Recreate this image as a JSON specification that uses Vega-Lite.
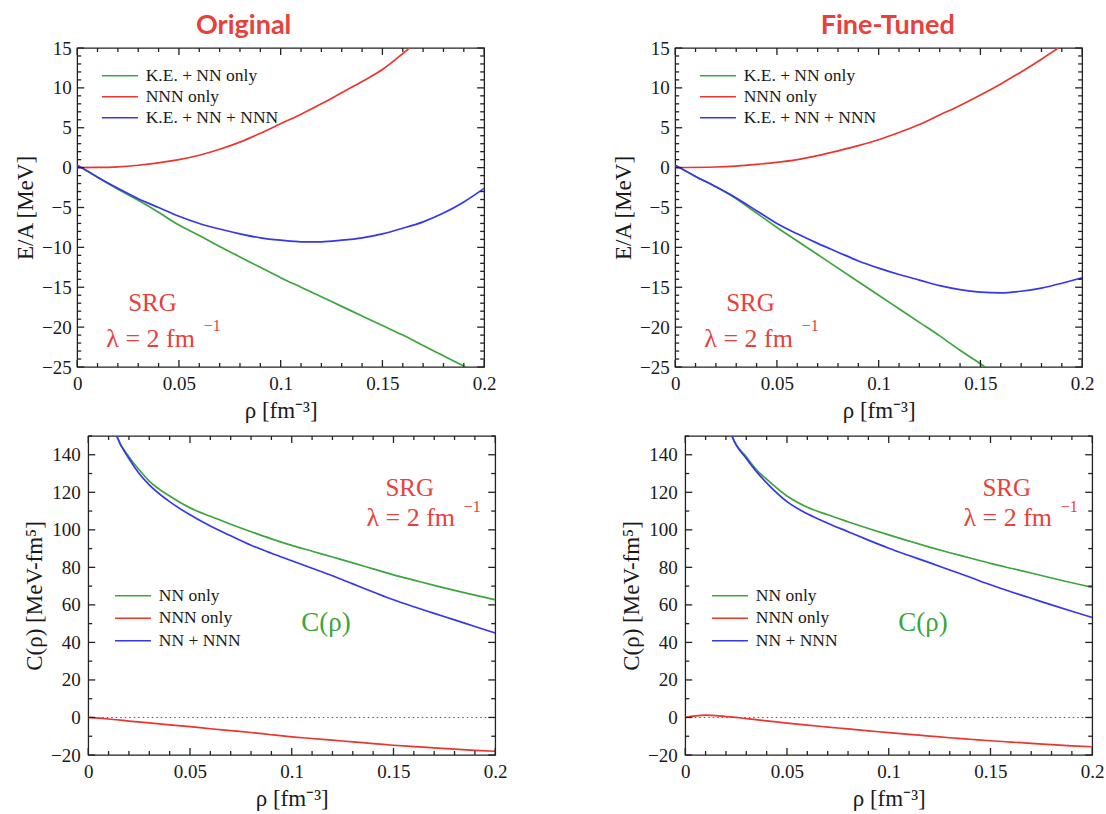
{
  "$schema": "https://vega.github.io/schema/vega-lite/v6.json",
  "padding": {"top": 11, "left": 13, "right": 0, "bottom": 0},
  "background": "white",
  "datasets": {
    "ea_original": [
      {"series": "K.E. + NN only", "rho": 0, "value": 0.3},
      {"series": "K.E. + NN only", "rho": 0.005, "value": -0.4},
      {"series": "K.E. + NN only", "rho": 0.01, "value": -1.2},
      {"series": "K.E. + NN only", "rho": 0.02, "value": -2.7},
      {"series": "K.E. + NN only", "rho": 0.03, "value": -4.1},
      {"series": "K.E. + NN only", "rho": 0.04, "value": -5.6},
      {"series": "K.E. + NN only", "rho": 0.05, "value": -7.2},
      {"series": "K.E. + NN only", "rho": 0.06, "value": -8.5},
      {"series": "K.E. + NN only", "rho": 0.07, "value": -9.9},
      {"series": "K.E. + NN only", "rho": 0.08, "value": -11.2},
      {"series": "K.E. + NN only", "rho": 0.09, "value": -12.5},
      {"series": "K.E. + NN only", "rho": 0.1, "value": -13.8},
      {"series": "K.E. + NN only", "rho": 0.11, "value": -15.0},
      {"series": "K.E. + NN only", "rho": 0.12, "value": -16.2},
      {"series": "K.E. + NN only", "rho": 0.13, "value": -17.4},
      {"series": "K.E. + NN only", "rho": 0.14, "value": -18.6},
      {"series": "K.E. + NN only", "rho": 0.15, "value": -19.8},
      {"series": "K.E. + NN only", "rho": 0.16, "value": -21.0},
      {"series": "K.E. + NN only", "rho": 0.17, "value": -22.3},
      {"series": "K.E. + NN only", "rho": 0.18, "value": -23.6},
      {"series": "K.E. + NN only", "rho": 0.19, "value": -24.9},
      {"series": "K.E. + NN only", "rho": 0.195, "value": -25.6},
      {"series": "NNN only", "rho": 0, "value": 0},
      {"series": "NNN only", "rho": 0.01, "value": 0.02},
      {"series": "NNN only", "rho": 0.02, "value": 0.1},
      {"series": "NNN only", "rho": 0.03, "value": 0.3},
      {"series": "NNN only", "rho": 0.04, "value": 0.6},
      {"series": "NNN only", "rho": 0.05, "value": 1.0},
      {"series": "NNN only", "rho": 0.06, "value": 1.55},
      {"series": "NNN only", "rho": 0.07, "value": 2.3},
      {"series": "NNN only", "rho": 0.08, "value": 3.2},
      {"series": "NNN only", "rho": 0.09, "value": 4.3},
      {"series": "NNN only", "rho": 0.1, "value": 5.5},
      {"series": "NNN only", "rho": 0.11, "value": 6.7},
      {"series": "NNN only", "rho": 0.12, "value": 8.0},
      {"series": "NNN only", "rho": 0.13, "value": 9.4},
      {"series": "NNN only", "rho": 0.14, "value": 10.8},
      {"series": "NNN only", "rho": 0.15, "value": 12.3},
      {"series": "NNN only", "rho": 0.16, "value": 14.3},
      {"series": "NNN only", "rho": 0.17, "value": 16.5},
      {"series": "K.E. + NN + NNN", "rho": 0, "value": 0.3},
      {"series": "K.E. + NN + NNN", "rho": 0.01, "value": -1.2},
      {"series": "K.E. + NN + NNN", "rho": 0.02, "value": -2.6},
      {"series": "K.E. + NN + NNN", "rho": 0.03, "value": -3.9},
      {"series": "K.E. + NN + NNN", "rho": 0.04, "value": -5.0},
      {"series": "K.E. + NN + NNN", "rho": 0.05, "value": -6.1},
      {"series": "K.E. + NN + NNN", "rho": 0.06, "value": -7.0},
      {"series": "K.E. + NN + NNN", "rho": 0.07, "value": -7.7},
      {"series": "K.E. + NN + NNN", "rho": 0.08, "value": -8.3},
      {"series": "K.E. + NN + NNN", "rho": 0.09, "value": -8.8},
      {"series": "K.E. + NN + NNN", "rho": 0.1, "value": -9.1},
      {"series": "K.E. + NN + NNN", "rho": 0.11, "value": -9.3},
      {"series": "K.E. + NN + NNN", "rho": 0.12, "value": -9.3},
      {"series": "K.E. + NN + NNN", "rho": 0.13, "value": -9.1},
      {"series": "K.E. + NN + NNN", "rho": 0.14, "value": -8.8},
      {"series": "K.E. + NN + NNN", "rho": 0.15, "value": -8.3},
      {"series": "K.E. + NN + NNN", "rho": 0.16, "value": -7.6},
      {"series": "K.E. + NN + NNN", "rho": 0.17, "value": -6.8},
      {"series": "K.E. + NN + NNN", "rho": 0.18, "value": -5.7},
      {"series": "K.E. + NN + NNN", "rho": 0.19, "value": -4.3},
      {"series": "K.E. + NN + NNN", "rho": 0.2, "value": -2.6}
    ],
    "ea_tuned": [
      {"series": "K.E. + NN only", "rho": 0, "value": 0.3},
      {"series": "K.E. + NN only", "rho": 0.01, "value": -1.1},
      {"series": "K.E. + NN only", "rho": 0.02, "value": -2.4},
      {"series": "K.E. + NN only", "rho": 0.03, "value": -3.9},
      {"series": "K.E. + NN only", "rho": 0.04, "value": -5.7},
      {"series": "K.E. + NN only", "rho": 0.05, "value": -7.5},
      {"series": "K.E. + NN only", "rho": 0.06, "value": -9.2},
      {"series": "K.E. + NN only", "rho": 0.07, "value": -10.9},
      {"series": "K.E. + NN only", "rho": 0.08, "value": -12.6},
      {"series": "K.E. + NN only", "rho": 0.09, "value": -14.3},
      {"series": "K.E. + NN only", "rho": 0.1, "value": -16.0},
      {"series": "K.E. + NN only", "rho": 0.11, "value": -17.7},
      {"series": "K.E. + NN only", "rho": 0.12, "value": -19.4},
      {"series": "K.E. + NN only", "rho": 0.13, "value": -21.1},
      {"series": "K.E. + NN only", "rho": 0.14, "value": -22.9},
      {"series": "K.E. + NN only", "rho": 0.15, "value": -24.6},
      {"series": "K.E. + NN only", "rho": 0.155, "value": -25.5},
      {"series": "NNN only", "rho": 0, "value": 0},
      {"series": "NNN only", "rho": 0.02, "value": 0.08},
      {"series": "NNN only", "rho": 0.03, "value": 0.2},
      {"series": "NNN only", "rho": 0.04, "value": 0.4},
      {"series": "NNN only", "rho": 0.05, "value": 0.65},
      {"series": "NNN only", "rho": 0.06, "value": 1.0},
      {"series": "NNN only", "rho": 0.07, "value": 1.5},
      {"series": "NNN only", "rho": 0.08, "value": 2.1},
      {"series": "NNN only", "rho": 0.09, "value": 2.75},
      {"series": "NNN only", "rho": 0.1, "value": 3.5},
      {"series": "NNN only", "rho": 0.11, "value": 4.4},
      {"series": "NNN only", "rho": 0.12, "value": 5.4},
      {"series": "NNN only", "rho": 0.13, "value": 6.6},
      {"series": "NNN only", "rho": 0.14, "value": 7.8},
      {"series": "NNN only", "rho": 0.15, "value": 9.1},
      {"series": "NNN only", "rho": 0.16, "value": 10.5},
      {"series": "NNN only", "rho": 0.17, "value": 12.0},
      {"series": "NNN only", "rho": 0.18, "value": 13.6},
      {"series": "NNN only", "rho": 0.19, "value": 15.3},
      {"series": "K.E. + NN + NNN", "rho": 0, "value": 0.3},
      {"series": "K.E. + NN + NNN", "rho": 0.01, "value": -1.1},
      {"series": "K.E. + NN + NNN", "rho": 0.02, "value": -2.4},
      {"series": "K.E. + NN + NNN", "rho": 0.03, "value": -3.8},
      {"series": "K.E. + NN + NNN", "rho": 0.04, "value": -5.4},
      {"series": "K.E. + NN + NNN", "rho": 0.05, "value": -7.0},
      {"series": "K.E. + NN + NNN", "rho": 0.06, "value": -8.3},
      {"series": "K.E. + NN + NNN", "rho": 0.07, "value": -9.5},
      {"series": "K.E. + NN + NNN", "rho": 0.08, "value": -10.6},
      {"series": "K.E. + NN + NNN", "rho": 0.09, "value": -11.7},
      {"series": "K.E. + NN + NNN", "rho": 0.1, "value": -12.6},
      {"series": "K.E. + NN + NNN", "rho": 0.11, "value": -13.4},
      {"series": "K.E. + NN + NNN", "rho": 0.12, "value": -14.1},
      {"series": "K.E. + NN + NNN", "rho": 0.13, "value": -14.8},
      {"series": "K.E. + NN + NNN", "rho": 0.14, "value": -15.3},
      {"series": "K.E. + NN + NNN", "rho": 0.15, "value": -15.6},
      {"series": "K.E. + NN + NNN", "rho": 0.16, "value": -15.7},
      {"series": "K.E. + NN + NNN", "rho": 0.17, "value": -15.5},
      {"series": "K.E. + NN + NNN", "rho": 0.18, "value": -15.1},
      {"series": "K.E. + NN + NNN", "rho": 0.19, "value": -14.5},
      {"series": "K.E. + NN + NNN", "rho": 0.2, "value": -13.8}
    ],
    "c_original": [
      {"series": "NN only", "rho": 0.012, "value": 157},
      {"series": "NN only", "rho": 0.014, "value": 150},
      {"series": "NN only", "rho": 0.02, "value": 139},
      {"series": "NN only", "rho": 0.025, "value": 132},
      {"series": "NN only", "rho": 0.03, "value": 126},
      {"series": "NN only", "rho": 0.04, "value": 118},
      {"series": "NN only", "rho": 0.05, "value": 111.7},
      {"series": "NN only", "rho": 0.06, "value": 107.2},
      {"series": "NN only", "rho": 0.07, "value": 103},
      {"series": "NN only", "rho": 0.08, "value": 99},
      {"series": "NN only", "rho": 0.09, "value": 95.2},
      {"series": "NN only", "rho": 0.1, "value": 91.7},
      {"series": "NN only", "rho": 0.11, "value": 88.6},
      {"series": "NN only", "rho": 0.12, "value": 85.5},
      {"series": "NN only", "rho": 0.13, "value": 82.4},
      {"series": "NN only", "rho": 0.14, "value": 79.2},
      {"series": "NN only", "rho": 0.15, "value": 76.0},
      {"series": "NN only", "rho": 0.16, "value": 73.2},
      {"series": "NN only", "rho": 0.17, "value": 70.4},
      {"series": "NN only", "rho": 0.18, "value": 67.7},
      {"series": "NN only", "rho": 0.19, "value": 65.2},
      {"series": "NN only", "rho": 0.2, "value": 62.7},
      {"series": "NNN only", "rho": 0, "value": 0},
      {"series": "NNN only", "rho": 0.01, "value": -0.8},
      {"series": "NNN only", "rho": 0.02, "value": -1.9},
      {"series": "NNN only", "rho": 0.03, "value": -2.9},
      {"series": "NNN only", "rho": 0.04, "value": -3.9},
      {"series": "NNN only", "rho": 0.05, "value": -4.9},
      {"series": "NNN only", "rho": 0.06, "value": -6.0},
      {"series": "NNN only", "rho": 0.07, "value": -7.0},
      {"series": "NNN only", "rho": 0.08, "value": -8.0},
      {"series": "NNN only", "rho": 0.09, "value": -9.2},
      {"series": "NNN only", "rho": 0.1, "value": -10.3},
      {"series": "NNN only", "rho": 0.11, "value": -11.2},
      {"series": "NNN only", "rho": 0.12, "value": -12.1},
      {"series": "NNN only", "rho": 0.13, "value": -13.0},
      {"series": "NNN only", "rho": 0.14, "value": -13.9},
      {"series": "NNN only", "rho": 0.15, "value": -14.8},
      {"series": "NNN only", "rho": 0.16, "value": -15.5},
      {"series": "NNN only", "rho": 0.17, "value": -16.2},
      {"series": "NNN only", "rho": 0.18, "value": -16.9},
      {"series": "NNN only", "rho": 0.19, "value": -17.5},
      {"series": "NNN only", "rho": 0.2, "value": -18.0},
      {"series": "NN + NNN", "rho": 0.012, "value": 157},
      {"series": "NN + NNN", "rho": 0.014, "value": 150},
      {"series": "NN + NNN", "rho": 0.02, "value": 138},
      {"series": "NN + NNN", "rho": 0.025, "value": 130},
      {"series": "NN + NNN", "rho": 0.03, "value": 124},
      {"series": "NN + NNN", "rho": 0.04, "value": 115},
      {"series": "NN + NNN", "rho": 0.05, "value": 108},
      {"series": "NN + NNN", "rho": 0.06, "value": 102},
      {"series": "NN + NNN", "rho": 0.07, "value": 96.8},
      {"series": "NN + NNN", "rho": 0.08, "value": 91.8},
      {"series": "NN + NNN", "rho": 0.09, "value": 87.5},
      {"series": "NN + NNN", "rho": 0.1, "value": 83.5},
      {"series": "NN + NNN", "rho": 0.11, "value": 79.5},
      {"series": "NN + NNN", "rho": 0.12, "value": 75.5},
      {"series": "NN + NNN", "rho": 0.13, "value": 71.2},
      {"series": "NN + NNN", "rho": 0.14, "value": 66.9},
      {"series": "NN + NNN", "rho": 0.15, "value": 62.7},
      {"series": "NN + NNN", "rho": 0.16, "value": 59.0},
      {"series": "NN + NNN", "rho": 0.17, "value": 55.5},
      {"series": "NN + NNN", "rho": 0.18, "value": 52.0},
      {"series": "NN + NNN", "rho": 0.19, "value": 48.5},
      {"series": "NN + NNN", "rho": 0.2, "value": 45.0}
    ],
    "c_tuned": [
      {"series": "NN only", "rho": 0.021, "value": 157},
      {"series": "NN only", "rho": 0.023, "value": 150},
      {"series": "NN only", "rho": 0.03, "value": 139},
      {"series": "NN only", "rho": 0.035, "value": 132},
      {"series": "NN only", "rho": 0.04, "value": 127},
      {"series": "NN only", "rho": 0.05, "value": 118},
      {"series": "NN only", "rho": 0.06, "value": 112},
      {"series": "NN only", "rho": 0.07, "value": 108},
      {"series": "NN only", "rho": 0.08, "value": 104.3},
      {"series": "NN only", "rho": 0.09, "value": 100.7},
      {"series": "NN only", "rho": 0.1, "value": 97.3},
      {"series": "NN only", "rho": 0.11, "value": 94},
      {"series": "NN only", "rho": 0.12, "value": 90.8},
      {"series": "NN only", "rho": 0.13, "value": 87.8},
      {"series": "NN only", "rho": 0.14, "value": 85},
      {"series": "NN only", "rho": 0.15, "value": 82.1},
      {"series": "NN only", "rho": 0.16, "value": 79.5},
      {"series": "NN only", "rho": 0.17, "value": 77},
      {"series": "NN only", "rho": 0.18, "value": 74.3},
      {"series": "NN only", "rho": 0.19, "value": 71.8},
      {"series": "NN only", "rho": 0.2, "value": 69.3},
      {"series": "NNN only", "rho": 0, "value": 0},
      {"series": "NNN only", "rho": 0.005, "value": 0.8},
      {"series": "NNN only", "rho": 0.01, "value": 1.2},
      {"series": "NNN only", "rho": 0.015, "value": 1.0},
      {"series": "NNN only", "rho": 0.02, "value": 0.5},
      {"series": "NNN only", "rho": 0.025, "value": 0},
      {"series": "NNN only", "rho": 0.03, "value": -0.6},
      {"series": "NNN only", "rho": 0.04, "value": -1.8},
      {"series": "NNN only", "rho": 0.05, "value": -3.0},
      {"series": "NNN only", "rho": 0.06, "value": -4.1},
      {"series": "NNN only", "rho": 0.07, "value": -5.1},
      {"series": "NNN only", "rho": 0.08, "value": -6.1},
      {"series": "NNN only", "rho": 0.09, "value": -7.1},
      {"series": "NNN only", "rho": 0.1, "value": -8.1},
      {"series": "NNN only", "rho": 0.11, "value": -9.0},
      {"series": "NNN only", "rho": 0.12, "value": -9.9},
      {"series": "NNN only", "rho": 0.13, "value": -10.8},
      {"series": "NNN only", "rho": 0.14, "value": -11.6},
      {"series": "NNN only", "rho": 0.15, "value": -12.4},
      {"series": "NNN only", "rho": 0.16, "value": -13.1},
      {"series": "NNN only", "rho": 0.17, "value": -13.8},
      {"series": "NNN only", "rho": 0.18, "value": -14.5},
      {"series": "NNN only", "rho": 0.19, "value": -15.1},
      {"series": "NNN only", "rho": 0.2, "value": -15.6},
      {"series": "NN + NNN", "rho": 0.021, "value": 157},
      {"series": "NN + NNN", "rho": 0.023, "value": 150},
      {"series": "NN + NNN", "rho": 0.03, "value": 138},
      {"series": "NN + NNN", "rho": 0.035, "value": 131},
      {"series": "NN + NNN", "rho": 0.04, "value": 125},
      {"series": "NN + NNN", "rho": 0.05, "value": 115},
      {"series": "NN + NNN", "rho": 0.06, "value": 108.5},
      {"series": "NN + NNN", "rho": 0.07, "value": 103.5},
      {"series": "NN + NNN", "rho": 0.08, "value": 99},
      {"series": "NN + NNN", "rho": 0.09, "value": 94.5},
      {"series": "NN + NNN", "rho": 0.1, "value": 90.2},
      {"series": "NN + NNN", "rho": 0.11, "value": 86.3},
      {"series": "NN + NNN", "rho": 0.12, "value": 82.5},
      {"series": "NN + NNN", "rho": 0.13, "value": 78.6},
      {"series": "NN + NNN", "rho": 0.14, "value": 74.7},
      {"series": "NN + NNN", "rho": 0.15, "value": 70.7},
      {"series": "NN + NNN", "rho": 0.16, "value": 67},
      {"series": "NN + NNN", "rho": 0.17, "value": 63.5},
      {"series": "NN + NNN", "rho": 0.18, "value": 60},
      {"series": "NN + NNN", "rho": 0.19, "value": 56.6},
      {"series": "NN + NNN", "rho": 0.2, "value": 53.3}
    ],
    "notes_ea": [
      {"kind": "srg", "rho": 0.037, "value": -17.0, "label": "SRG"},
      {"kind": "lambda", "rho": 0.0143, "value": -21.5, "label": "λ = 2 fm"},
      {"kind": "power", "rho": 0.0622, "value": -19.9, "label": "−1"}
    ],
    "notes_c": [
      {"kind": "srg", "rho": 0.158, "value": 122.2, "label": "SRG"},
      {"kind": "lambda", "rho": 0.1367, "value": 106.2, "label": "λ = 2 fm"},
      {"kind": "power", "rho": 0.1845, "value": 112.4, "label": "−1"},
      {"kind": "name", "rho": 0.1168, "value": 50.5, "label": "C(ρ)"}
    ],
    "zero_line": [{"level": 0}],
    "ticks_rho": [
      {"rho": 0, "kind": "major"}, {"rho": 0.01, "kind": "minor"}, {"rho": 0.02, "kind": "minor"}, {"rho": 0.03, "kind": "minor"}, {"rho": 0.04, "kind": "minor"},
      {"rho": 0.05, "kind": "major"}, {"rho": 0.06, "kind": "minor"}, {"rho": 0.07, "kind": "minor"}, {"rho": 0.08, "kind": "minor"}, {"rho": 0.09, "kind": "minor"},
      {"rho": 0.1, "kind": "major"}, {"rho": 0.11, "kind": "minor"}, {"rho": 0.12, "kind": "minor"}, {"rho": 0.13, "kind": "minor"}, {"rho": 0.14, "kind": "minor"},
      {"rho": 0.15, "kind": "major"}, {"rho": 0.16, "kind": "minor"}, {"rho": 0.17, "kind": "minor"}, {"rho": 0.18, "kind": "minor"}, {"rho": 0.19, "kind": "minor"},
      {"rho": 0.2, "kind": "major"}
    ],
    "ticks_ea": [
      {"value": -25, "kind": "major"}, {"value": -24, "kind": "minor"}, {"value": -23, "kind": "minor"}, {"value": -22, "kind": "minor"}, {"value": -21, "kind": "minor"},
      {"value": -20, "kind": "major"}, {"value": -19, "kind": "minor"}, {"value": -18, "kind": "minor"}, {"value": -17, "kind": "minor"}, {"value": -16, "kind": "minor"},
      {"value": -15, "kind": "major"}, {"value": -14, "kind": "minor"}, {"value": -13, "kind": "minor"}, {"value": -12, "kind": "minor"}, {"value": -11, "kind": "minor"},
      {"value": -10, "kind": "major"}, {"value": -9, "kind": "minor"}, {"value": -8, "kind": "minor"}, {"value": -7, "kind": "minor"}, {"value": -6, "kind": "minor"},
      {"value": -5, "kind": "major"}, {"value": -4, "kind": "minor"}, {"value": -3, "kind": "minor"}, {"value": -2, "kind": "minor"}, {"value": -1, "kind": "minor"},
      {"value": 0, "kind": "major"}, {"value": 1, "kind": "minor"}, {"value": 2, "kind": "minor"}, {"value": 3, "kind": "minor"}, {"value": 4, "kind": "minor"},
      {"value": 5, "kind": "major"}, {"value": 6, "kind": "minor"}, {"value": 7, "kind": "minor"}, {"value": 8, "kind": "minor"}, {"value": 9, "kind": "minor"},
      {"value": 10, "kind": "major"}, {"value": 11, "kind": "minor"}, {"value": 12, "kind": "minor"}, {"value": 13, "kind": "minor"}, {"value": 14, "kind": "minor"},
      {"value": 15, "kind": "major"}
    ],
    "ticks_c": [
      {"value": -20, "kind": "major"}, {"value": -10, "kind": "minor"}, {"value": 0, "kind": "major"}, {"value": 10, "kind": "minor"},
      {"value": 20, "kind": "major"}, {"value": 30, "kind": "minor"}, {"value": 40, "kind": "major"}, {"value": 50, "kind": "minor"},
      {"value": 60, "kind": "major"}, {"value": 70, "kind": "minor"}, {"value": 80, "kind": "major"}, {"value": 90, "kind": "minor"},
      {"value": 100, "kind": "major"}, {"value": 110, "kind": "minor"}, {"value": 120, "kind": "major"}, {"value": 130, "kind": "minor"},
      {"value": 140, "kind": "major"}, {"value": 150, "kind": "minor"}
    ]
  },
  "vconcat": [
    {
      "hconcat": [
        {
          "width": 407,
          "height": 319,
          "title": {"text": "Original", "dx": -37},
          "layer": [
            {
              "data": {"name": "ea_original"},
              "mark": {"type": "line", "clip": true, "strokeWidth": 1.7, "interpolate": "monotone"},
              "encoding": {
                "x": {"field": "rho", "type": "quantitative", "scale": {"domain": [0, 0.2], "nice": false, "zero": false},
                  "axis": {"orient": "bottom", "values": [0, 0.05, 0.1, 0.15, 0.2], "format": "~g", "labelPadding": 7, "title": "ρ [fm⁻³]", "titlePadding": 6}},
                "y": {"field": "value", "type": "quantitative", "scale": {"domain": [-25, 15], "nice": false, "zero": false},
                  "axis": {"orient": "left", "values": [-25, -20, -15, -10, -5, 0, 5, 10, 15], "format": "d", "labelPadding": 6, "title": "E/A [MeV]", "titlePadding": 4}},
                "color": {"field": "series", "type": "nominal",
                  "scale": {"domain": ["K.E. + NN only", "NNN only", "K.E. + NN + NNN"], "range": ["#3ca53c", "#e8372f", "#3636ee"]},
                  "legend": {"orient": "none", "legendX": 22, "legendY": 19, "rowPadding": 2}}
              }
            },
            {
              "data": {"name": "notes_ea"},
              "transform": [{"filter": "datum.kind === 'srg'"}],
              "mark": {"type": "text", "fontSize": 25, "color": "#e8403a", "align": "center", "baseline": "middle"},
              "encoding": {
                "x": {"field": "rho", "type": "quantitative", "scale": {"domain": [0, 0.2], "nice": false, "zero": false}, "axis": null},
                "y": {"field": "value", "type": "quantitative", "scale": {"domain": [-25, 15], "nice": false, "zero": false}, "axis": null},
                "text": {"field": "label"}
              }
            },
            {
              "data": {"name": "notes_ea"},
              "transform": [{"filter": "datum.kind === 'lambda'"}],
              "mark": {"type": "text", "fontSize": 26, "color": "#e8403a", "align": "left", "baseline": "middle"},
              "encoding": {
                "x": {"field": "rho", "type": "quantitative", "scale": {"domain": [0, 0.2], "nice": false, "zero": false}, "axis": null},
                "y": {"field": "value", "type": "quantitative", "scale": {"domain": [-25, 15], "nice": false, "zero": false}, "axis": null},
                "text": {"field": "label"}
              }
            },
            {
              "data": {"name": "notes_ea"},
              "transform": [{"filter": "datum.kind === 'power'"}],
              "mark": {"type": "text", "fontSize": 16, "color": "#e8403a", "align": "left", "baseline": "middle"},
              "encoding": {
                "x": {"field": "rho", "type": "quantitative", "scale": {"domain": [0, 0.2], "nice": false, "zero": false}, "axis": null},
                "y": {"field": "value", "type": "quantitative", "scale": {"domain": [-25, 15], "nice": false, "zero": false}, "axis": null},
                "text": {"field": "label"}
              }
            },
            {
              "data": {"name": "ticks_rho"},
              "transform": [{"filter": "datum.kind === 'major'"}],
              "mark": {"type": "tick", "orient": "vertical", "size": 7, "thickness": 1.3, "color": "#222222", "opacity": 1, "yOffset": -3.5},
              "encoding": {
                "x": {"field": "rho", "type": "quantitative", "scale": {"domain": [0, 0.2], "nice": false, "zero": false}, "axis": null},
                "y": {"datum": -25, "type": "quantitative", "scale": {"domain": [-25, 15], "nice": false, "zero": false}, "axis": null}
              }
            },
            {
              "data": {"name": "ticks_rho"},
              "transform": [{"filter": "datum.kind === 'minor'"}],
              "mark": {"type": "tick", "orient": "vertical", "size": 4, "thickness": 1.3, "color": "#222222", "opacity": 1, "yOffset": -2},
              "encoding": {
                "x": {"field": "rho", "type": "quantitative", "scale": {"domain": [0, 0.2], "nice": false, "zero": false}, "axis": null},
                "y": {"datum": -25, "type": "quantitative", "scale": {"domain": [-25, 15], "nice": false, "zero": false}, "axis": null}
              }
            },
            {
              "data": {"name": "ticks_rho"},
              "transform": [{"filter": "datum.kind === 'major'"}],
              "mark": {"type": "tick", "orient": "vertical", "size": 7, "thickness": 1.3, "color": "#222222", "opacity": 1, "yOffset": 3.5},
              "encoding": {
                "x": {"field": "rho", "type": "quantitative", "scale": {"domain": [0, 0.2], "nice": false, "zero": false}, "axis": null},
                "y": {"datum": 15, "type": "quantitative", "scale": {"domain": [-25, 15], "nice": false, "zero": false}, "axis": null}
              }
            },
            {
              "data": {"name": "ticks_rho"},
              "transform": [{"filter": "datum.kind === 'minor'"}],
              "mark": {"type": "tick", "orient": "vertical", "size": 4, "thickness": 1.3, "color": "#222222", "opacity": 1, "yOffset": 2},
              "encoding": {
                "x": {"field": "rho", "type": "quantitative", "scale": {"domain": [0, 0.2], "nice": false, "zero": false}, "axis": null},
                "y": {"datum": 15, "type": "quantitative", "scale": {"domain": [-25, 15], "nice": false, "zero": false}, "axis": null}
              }
            },
            {
              "data": {"name": "ticks_ea"},
              "transform": [{"filter": "datum.kind === 'major'"}],
              "mark": {"type": "tick", "orient": "horizontal", "size": 7, "thickness": 1.3, "color": "#222222", "opacity": 1, "xOffset": 3.5},
              "encoding": {
                "x": {"datum": 0, "type": "quantitative", "scale": {"domain": [0, 0.2], "nice": false, "zero": false}, "axis": null},
                "y": {"field": "value", "type": "quantitative", "scale": {"domain": [-25, 15], "nice": false, "zero": false}, "axis": null}
              }
            },
            {
              "data": {"name": "ticks_ea"},
              "transform": [{"filter": "datum.kind === 'minor'"}],
              "mark": {"type": "tick", "orient": "horizontal", "size": 4, "thickness": 1.3, "color": "#222222", "opacity": 1, "xOffset": 2},
              "encoding": {
                "x": {"datum": 0, "type": "quantitative", "scale": {"domain": [0, 0.2], "nice": false, "zero": false}, "axis": null},
                "y": {"field": "value", "type": "quantitative", "scale": {"domain": [-25, 15], "nice": false, "zero": false}, "axis": null}
              }
            },
            {
              "data": {"name": "ticks_ea"},
              "transform": [{"filter": "datum.kind === 'major'"}],
              "mark": {"type": "tick", "orient": "horizontal", "size": 7, "thickness": 1.3, "color": "#222222", "opacity": 1, "xOffset": -3.5},
              "encoding": {
                "x": {"datum": 0.2, "type": "quantitative", "scale": {"domain": [0, 0.2], "nice": false, "zero": false}, "axis": null},
                "y": {"field": "value", "type": "quantitative", "scale": {"domain": [-25, 15], "nice": false, "zero": false}, "axis": null}
              }
            },
            {
              "data": {"name": "ticks_ea"},
              "transform": [{"filter": "datum.kind === 'minor'"}],
              "mark": {"type": "tick", "orient": "horizontal", "size": 4, "thickness": 1.3, "color": "#222222", "opacity": 1, "xOffset": -2},
              "encoding": {
                "x": {"datum": 0.2, "type": "quantitative", "scale": {"domain": [0, 0.2], "nice": false, "zero": false}, "axis": null},
                "y": {"field": "value", "type": "quantitative", "scale": {"domain": [-25, 15], "nice": false, "zero": false}, "axis": null}
              }
            }
          ],
          "resolve": {"axis": {"x": "independent", "y": "independent"}}
        },
        {
          "width": 407,
          "height": 319,
          "title": {"text": "Fine-Tuned", "dx": 9},
          "layer": [
            {
              "data": {"name": "ea_tuned"},
              "mark": {"type": "line", "clip": true, "strokeWidth": 1.7, "interpolate": "monotone"},
              "encoding": {
                "x": {"field": "rho", "type": "quantitative", "scale": {"domain": [0, 0.2], "nice": false, "zero": false},
                  "axis": {"orient": "bottom", "values": [0, 0.05, 0.1, 0.15, 0.2], "format": "~g", "labelPadding": 7, "title": "ρ [fm⁻³]", "titlePadding": 6}},
                "y": {"field": "value", "type": "quantitative", "scale": {"domain": [-25, 15], "nice": false, "zero": false},
                  "axis": {"orient": "left", "values": [-25, -20, -15, -10, -5, 0, 5, 10, 15], "format": "d", "labelPadding": 6, "title": "E/A [MeV]", "titlePadding": 4}},
                "color": {"field": "series", "type": "nominal",
                  "scale": {"domain": ["K.E. + NN only", "NNN only", "K.E. + NN + NNN"], "range": ["#3ca53c", "#e8372f", "#3636ee"]},
                  "legend": {"orient": "none", "legendX": 22, "legendY": 19, "rowPadding": 2}}
              }
            },
            {
              "data": {"name": "notes_ea"},
              "transform": [{"filter": "datum.kind === 'srg'"}],
              "mark": {"type": "text", "fontSize": 25, "color": "#e8403a", "align": "center", "baseline": "middle"},
              "encoding": {
                "x": {"field": "rho", "type": "quantitative", "scale": {"domain": [0, 0.2], "nice": false, "zero": false}, "axis": null},
                "y": {"field": "value", "type": "quantitative", "scale": {"domain": [-25, 15], "nice": false, "zero": false}, "axis": null},
                "text": {"field": "label"}
              }
            },
            {
              "data": {"name": "notes_ea"},
              "transform": [{"filter": "datum.kind === 'lambda'"}],
              "mark": {"type": "text", "fontSize": 26, "color": "#e8403a", "align": "left", "baseline": "middle"},
              "encoding": {
                "x": {"field": "rho", "type": "quantitative", "scale": {"domain": [0, 0.2], "nice": false, "zero": false}, "axis": null},
                "y": {"field": "value", "type": "quantitative", "scale": {"domain": [-25, 15], "nice": false, "zero": false},
                  "axis": {"orient": "right", "values": [], "labels": false, "ticks": false, "title": " ", "titleFontSize": 14, "titlePadding": 19}},
                "text": {"field": "label"}
              }
            },
            {
              "data": {"name": "notes_ea"},
              "transform": [{"filter": "datum.kind === 'power'"}],
              "mark": {"type": "text", "fontSize": 16, "color": "#e8403a", "align": "left", "baseline": "middle"},
              "encoding": {
                "x": {"field": "rho", "type": "quantitative", "scale": {"domain": [0, 0.2], "nice": false, "zero": false}, "axis": null},
                "y": {"field": "value", "type": "quantitative", "scale": {"domain": [-25, 15], "nice": false, "zero": false}, "axis": null},
                "text": {"field": "label"}
              }
            },
            {
              "data": {"name": "ticks_rho"},
              "transform": [{"filter": "datum.kind === 'major'"}],
              "mark": {"type": "tick", "orient": "vertical", "size": 7, "thickness": 1.3, "color": "#222222", "opacity": 1, "yOffset": -3.5},
              "encoding": {
                "x": {"field": "rho", "type": "quantitative", "scale": {"domain": [0, 0.2], "nice": false, "zero": false}, "axis": null},
                "y": {"datum": -25, "type": "quantitative", "scale": {"domain": [-25, 15], "nice": false, "zero": false}, "axis": null}
              }
            },
            {
              "data": {"name": "ticks_rho"},
              "transform": [{"filter": "datum.kind === 'minor'"}],
              "mark": {"type": "tick", "orient": "vertical", "size": 4, "thickness": 1.3, "color": "#222222", "opacity": 1, "yOffset": -2},
              "encoding": {
                "x": {"field": "rho", "type": "quantitative", "scale": {"domain": [0, 0.2], "nice": false, "zero": false}, "axis": null},
                "y": {"datum": -25, "type": "quantitative", "scale": {"domain": [-25, 15], "nice": false, "zero": false}, "axis": null}
              }
            },
            {
              "data": {"name": "ticks_rho"},
              "transform": [{"filter": "datum.kind === 'major'"}],
              "mark": {"type": "tick", "orient": "vertical", "size": 7, "thickness": 1.3, "color": "#222222", "opacity": 1, "yOffset": 3.5},
              "encoding": {
                "x": {"field": "rho", "type": "quantitative", "scale": {"domain": [0, 0.2], "nice": false, "zero": false}, "axis": null},
                "y": {"datum": 15, "type": "quantitative", "scale": {"domain": [-25, 15], "nice": false, "zero": false}, "axis": null}
              }
            },
            {
              "data": {"name": "ticks_rho"},
              "transform": [{"filter": "datum.kind === 'minor'"}],
              "mark": {"type": "tick", "orient": "vertical", "size": 4, "thickness": 1.3, "color": "#222222", "opacity": 1, "yOffset": 2},
              "encoding": {
                "x": {"field": "rho", "type": "quantitative", "scale": {"domain": [0, 0.2], "nice": false, "zero": false}, "axis": null},
                "y": {"datum": 15, "type": "quantitative", "scale": {"domain": [-25, 15], "nice": false, "zero": false}, "axis": null}
              }
            },
            {
              "data": {"name": "ticks_ea"},
              "transform": [{"filter": "datum.kind === 'major'"}],
              "mark": {"type": "tick", "orient": "horizontal", "size": 7, "thickness": 1.3, "color": "#222222", "opacity": 1, "xOffset": 3.5},
              "encoding": {
                "x": {"datum": 0, "type": "quantitative", "scale": {"domain": [0, 0.2], "nice": false, "zero": false}, "axis": null},
                "y": {"field": "value", "type": "quantitative", "scale": {"domain": [-25, 15], "nice": false, "zero": false}, "axis": null}
              }
            },
            {
              "data": {"name": "ticks_ea"},
              "transform": [{"filter": "datum.kind === 'minor'"}],
              "mark": {"type": "tick", "orient": "horizontal", "size": 4, "thickness": 1.3, "color": "#222222", "opacity": 1, "xOffset": 2},
              "encoding": {
                "x": {"datum": 0, "type": "quantitative", "scale": {"domain": [0, 0.2], "nice": false, "zero": false}, "axis": null},
                "y": {"field": "value", "type": "quantitative", "scale": {"domain": [-25, 15], "nice": false, "zero": false}, "axis": null}
              }
            },
            {
              "data": {"name": "ticks_ea"},
              "transform": [{"filter": "datum.kind === 'major'"}],
              "mark": {"type": "tick", "orient": "horizontal", "size": 7, "thickness": 1.3, "color": "#222222", "opacity": 1, "xOffset": -3.5},
              "encoding": {
                "x": {"datum": 0.2, "type": "quantitative", "scale": {"domain": [0, 0.2], "nice": false, "zero": false}, "axis": null},
                "y": {"field": "value", "type": "quantitative", "scale": {"domain": [-25, 15], "nice": false, "zero": false}, "axis": null}
              }
            },
            {
              "data": {"name": "ticks_ea"},
              "transform": [{"filter": "datum.kind === 'minor'"}],
              "mark": {"type": "tick", "orient": "horizontal", "size": 4, "thickness": 1.3, "color": "#222222", "opacity": 1, "xOffset": -2},
              "encoding": {
                "x": {"datum": 0.2, "type": "quantitative", "scale": {"domain": [0, 0.2], "nice": false, "zero": false}, "axis": null},
                "y": {"field": "value", "type": "quantitative", "scale": {"domain": [-25, 15], "nice": false, "zero": false}, "axis": null}
              }
            }
          ],
          "resolve": {"axis": {"x": "independent", "y": "independent"}}
        }
      ],
      "spacing": 114,
      "resolve": {"scale": {"color": "independent"}, "legend": {"color": "independent"}}
    },
    {
      "hconcat": [
        {
          "width": 407,
          "height": 319,
          "layer": [
            {
              "data": {"name": "zero_line"},
              "mark": {"type": "rule", "color": "#555555", "strokeWidth": 1, "strokeDash": [1.5, 3]},
              "encoding": {
                "y": {"field": "level", "type": "quantitative", "scale": {"domain": [-20, 150], "nice": false, "zero": false}, "axis": null}
              }
            },
            {
              "data": {"name": "c_original"},
              "mark": {"type": "line", "clip": true, "strokeWidth": 1.7, "interpolate": "monotone"},
              "encoding": {
                "x": {"field": "rho", "type": "quantitative", "scale": {"domain": [0, 0.2], "nice": false, "zero": false},
                  "axis": {"orient": "bottom", "values": [0, 0.05, 0.1, 0.15, 0.2], "format": "~g", "labelPadding": 7, "title": "ρ [fm⁻³]", "titlePadding": 6}},
                "y": {"field": "value", "type": "quantitative", "scale": {"domain": [-20, 150], "nice": false, "zero": false},
                  "axis": {"orient": "left", "values": [-20, 0, 20, 40, 60, 80, 100, 120, 140], "format": "d", "labelPadding": 8, "title": "C(ρ)   [MeV-fm⁵]", "titlePadding": 4}},
                "color": {"field": "series", "type": "nominal",
                  "scale": {"domain": ["NN only", "NNN only", "NN + NNN"], "range": ["#3ca53c", "#e8372f", "#3636ee"]},
                  "legend": {"orient": "none", "legendX": 24, "legendY": 151, "rowPadding": 3.5}}
              }
            },
            {
              "data": {"name": "notes_c"},
              "transform": [{"filter": "datum.kind === 'srg'"}],
              "mark": {"type": "text", "fontSize": 25, "color": "#e8403a", "align": "center", "baseline": "middle"},
              "encoding": {
                "x": {"field": "rho", "type": "quantitative", "scale": {"domain": [0, 0.2], "nice": false, "zero": false}, "axis": null},
                "y": {"field": "value", "type": "quantitative", "scale": {"domain": [-20, 150], "nice": false, "zero": false}, "axis": null},
                "text": {"field": "label"}
              }
            },
            {
              "data": {"name": "notes_c"},
              "transform": [{"filter": "datum.kind === 'lambda'"}],
              "mark": {"type": "text", "fontSize": 26, "color": "#e8403a", "align": "left", "baseline": "middle"},
              "encoding": {
                "x": {"field": "rho", "type": "quantitative", "scale": {"domain": [0, 0.2], "nice": false, "zero": false}, "axis": null},
                "y": {"field": "value", "type": "quantitative", "scale": {"domain": [-20, 150], "nice": false, "zero": false}, "axis": null},
                "text": {"field": "label"}
              }
            },
            {
              "data": {"name": "notes_c"},
              "transform": [{"filter": "datum.kind === 'power'"}],
              "mark": {"type": "text", "fontSize": 16, "color": "#e8403a", "align": "left", "baseline": "middle"},
              "encoding": {
                "x": {"field": "rho", "type": "quantitative", "scale": {"domain": [0, 0.2], "nice": false, "zero": false}, "axis": null},
                "y": {"field": "value", "type": "quantitative", "scale": {"domain": [-20, 150], "nice": false, "zero": false}, "axis": null},
                "text": {"field": "label"}
              }
            },
            {
              "data": {"name": "notes_c"},
              "transform": [{"filter": "datum.kind === 'name'"}],
              "mark": {"type": "text", "fontSize": 27, "color": "#3ca53c", "align": "center", "baseline": "middle"},
              "encoding": {
                "x": {"field": "rho", "type": "quantitative", "scale": {"domain": [0, 0.2], "nice": false, "zero": false}, "axis": null},
                "y": {"field": "value", "type": "quantitative", "scale": {"domain": [-20, 150], "nice": false, "zero": false}, "axis": null},
                "text": {"field": "label"}
              }
            },
            {
              "data": {"name": "ticks_rho"},
              "transform": [{"filter": "datum.kind === 'major'"}],
              "mark": {"type": "tick", "orient": "vertical", "size": 7, "thickness": 1.3, "color": "#222222", "opacity": 1, "yOffset": -3.5},
              "encoding": {
                "x": {"field": "rho", "type": "quantitative", "scale": {"domain": [0, 0.2], "nice": false, "zero": false}, "axis": null},
                "y": {"datum": -20, "type": "quantitative", "scale": {"domain": [-20, 150], "nice": false, "zero": false}, "axis": null}
              }
            },
            {
              "data": {"name": "ticks_rho"},
              "transform": [{"filter": "datum.kind === 'minor'"}],
              "mark": {"type": "tick", "orient": "vertical", "size": 4, "thickness": 1.3, "color": "#222222", "opacity": 1, "yOffset": -2},
              "encoding": {
                "x": {"field": "rho", "type": "quantitative", "scale": {"domain": [0, 0.2], "nice": false, "zero": false}, "axis": null},
                "y": {"datum": -20, "type": "quantitative", "scale": {"domain": [-20, 150], "nice": false, "zero": false}, "axis": null}
              }
            },
            {
              "data": {"name": "ticks_rho"},
              "transform": [{"filter": "datum.kind === 'major'"}],
              "mark": {"type": "tick", "orient": "vertical", "size": 7, "thickness": 1.3, "color": "#222222", "opacity": 1, "yOffset": 3.5},
              "encoding": {
                "x": {"field": "rho", "type": "quantitative", "scale": {"domain": [0, 0.2], "nice": false, "zero": false}, "axis": null},
                "y": {"datum": 150, "type": "quantitative", "scale": {"domain": [-20, 150], "nice": false, "zero": false}, "axis": null}
              }
            },
            {
              "data": {"name": "ticks_rho"},
              "transform": [{"filter": "datum.kind === 'minor'"}],
              "mark": {"type": "tick", "orient": "vertical", "size": 4, "thickness": 1.3, "color": "#222222", "opacity": 1, "yOffset": 2},
              "encoding": {
                "x": {"field": "rho", "type": "quantitative", "scale": {"domain": [0, 0.2], "nice": false, "zero": false}, "axis": null},
                "y": {"datum": 150, "type": "quantitative", "scale": {"domain": [-20, 150], "nice": false, "zero": false}, "axis": null}
              }
            },
            {
              "data": {"name": "ticks_c"},
              "transform": [{"filter": "datum.kind === 'major'"}],
              "mark": {"type": "tick", "orient": "horizontal", "size": 7, "thickness": 1.3, "color": "#222222", "opacity": 1, "xOffset": 3.5},
              "encoding": {
                "x": {"datum": 0, "type": "quantitative", "scale": {"domain": [0, 0.2], "nice": false, "zero": false}, "axis": null},
                "y": {"field": "value", "type": "quantitative", "scale": {"domain": [-20, 150], "nice": false, "zero": false}, "axis": null}
              }
            },
            {
              "data": {"name": "ticks_c"},
              "transform": [{"filter": "datum.kind === 'minor'"}],
              "mark": {"type": "tick", "orient": "horizontal", "size": 4, "thickness": 1.3, "color": "#222222", "opacity": 1, "xOffset": 2},
              "encoding": {
                "x": {"datum": 0, "type": "quantitative", "scale": {"domain": [0, 0.2], "nice": false, "zero": false}, "axis": null},
                "y": {"field": "value", "type": "quantitative", "scale": {"domain": [-20, 150], "nice": false, "zero": false}, "axis": null}
              }
            },
            {
              "data": {"name": "ticks_c"},
              "transform": [{"filter": "datum.kind === 'major'"}],
              "mark": {"type": "tick", "orient": "horizontal", "size": 7, "thickness": 1.3, "color": "#222222", "opacity": 1, "xOffset": -3.5},
              "encoding": {
                "x": {"datum": 0.2, "type": "quantitative", "scale": {"domain": [0, 0.2], "nice": false, "zero": false}, "axis": null},
                "y": {"field": "value", "type": "quantitative", "scale": {"domain": [-20, 150], "nice": false, "zero": false}, "axis": null}
              }
            },
            {
              "data": {"name": "ticks_c"},
              "transform": [{"filter": "datum.kind === 'minor'"}],
              "mark": {"type": "tick", "orient": "horizontal", "size": 4, "thickness": 1.3, "color": "#222222", "opacity": 1, "xOffset": -2},
              "encoding": {
                "x": {"datum": 0.2, "type": "quantitative", "scale": {"domain": [0, 0.2], "nice": false, "zero": false}, "axis": null},
                "y": {"field": "value", "type": "quantitative", "scale": {"domain": [-20, 150], "nice": false, "zero": false}, "axis": null}
              }
            }
          ],
          "resolve": {"axis": {"x": "independent", "y": "independent"}}
        },
        {
          "width": 407,
          "height": 319,
          "layer": [
            {
              "data": {"name": "zero_line"},
              "mark": {"type": "rule", "color": "#555555", "strokeWidth": 1, "strokeDash": [1.5, 3]},
              "encoding": {
                "y": {"field": "level", "type": "quantitative", "scale": {"domain": [-20, 150], "nice": false, "zero": false}, "axis": null}
              }
            },
            {
              "data": {"name": "c_tuned"},
              "mark": {"type": "line", "clip": true, "strokeWidth": 1.7, "interpolate": "monotone"},
              "encoding": {
                "x": {"field": "rho", "type": "quantitative", "scale": {"domain": [0, 0.2], "nice": false, "zero": false},
                  "axis": {"orient": "bottom", "values": [0, 0.05, 0.1, 0.15, 0.2], "format": "~g", "labelPadding": 7, "title": "ρ [fm⁻³]", "titlePadding": 6}},
                "y": {"field": "value", "type": "quantitative", "scale": {"domain": [-20, 150], "nice": false, "zero": false},
                  "axis": {"orient": "left", "values": [-20, 0, 20, 40, 60, 80, 100, 120, 140], "format": "d", "labelPadding": 8, "title": "C(ρ)   [MeV-fm⁵]", "titlePadding": 4}},
                "color": {"field": "series", "type": "nominal",
                  "scale": {"domain": ["NN only", "NNN only", "NN + NNN"], "range": ["#3ca53c", "#e8372f", "#3636ee"]},
                  "legend": {"orient": "none", "legendX": 24, "legendY": 151, "rowPadding": 3.5}}
              }
            },
            {
              "data": {"name": "notes_c"},
              "transform": [{"filter": "datum.kind === 'srg'"}],
              "mark": {"type": "text", "fontSize": 25, "color": "#e8403a", "align": "center", "baseline": "middle"},
              "encoding": {
                "x": {"field": "rho", "type": "quantitative", "scale": {"domain": [0, 0.2], "nice": false, "zero": false}, "axis": null},
                "y": {"field": "value", "type": "quantitative", "scale": {"domain": [-20, 150], "nice": false, "zero": false}, "axis": null},
                "text": {"field": "label"}
              }
            },
            {
              "data": {"name": "notes_c"},
              "transform": [{"filter": "datum.kind === 'lambda'"}],
              "mark": {"type": "text", "fontSize": 26, "color": "#e8403a", "align": "left", "baseline": "middle"},
              "encoding": {
                "x": {"field": "rho", "type": "quantitative", "scale": {"domain": [0, 0.2], "nice": false, "zero": false}, "axis": null},
                "y": {"field": "value", "type": "quantitative", "scale": {"domain": [-20, 150], "nice": false, "zero": false}, "axis": null},
                "text": {"field": "label"}
              }
            },
            {
              "data": {"name": "notes_c"},
              "transform": [{"filter": "datum.kind === 'power'"}],
              "mark": {"type": "text", "fontSize": 16, "color": "#e8403a", "align": "left", "baseline": "middle"},
              "encoding": {
                "x": {"field": "rho", "type": "quantitative", "scale": {"domain": [0, 0.2], "nice": false, "zero": false}, "axis": null},
                "y": {"field": "value", "type": "quantitative", "scale": {"domain": [-20, 150], "nice": false, "zero": false}, "axis": null},
                "text": {"field": "label"}
              }
            },
            {
              "data": {"name": "notes_c"},
              "transform": [{"filter": "datum.kind === 'name'"}],
              "mark": {"type": "text", "fontSize": 27, "color": "#3ca53c", "align": "center", "baseline": "middle"},
              "encoding": {
                "x": {"field": "rho", "type": "quantitative", "scale": {"domain": [0, 0.2], "nice": false, "zero": false}, "axis": null},
                "y": {"field": "value", "type": "quantitative", "scale": {"domain": [-20, 150], "nice": false, "zero": false}, "axis": null},
                "text": {"field": "label"}
              }
            },
            {
              "data": {"name": "ticks_rho"},
              "transform": [{"filter": "datum.kind === 'major'"}],
              "mark": {"type": "tick", "orient": "vertical", "size": 7, "thickness": 1.3, "color": "#222222", "opacity": 1, "yOffset": -3.5},
              "encoding": {
                "x": {"field": "rho", "type": "quantitative", "scale": {"domain": [0, 0.2], "nice": false, "zero": false}, "axis": null},
                "y": {"datum": -20, "type": "quantitative", "scale": {"domain": [-20, 150], "nice": false, "zero": false}, "axis": null}
              }
            },
            {
              "data": {"name": "ticks_rho"},
              "transform": [{"filter": "datum.kind === 'minor'"}],
              "mark": {"type": "tick", "orient": "vertical", "size": 4, "thickness": 1.3, "color": "#222222", "opacity": 1, "yOffset": -2},
              "encoding": {
                "x": {"field": "rho", "type": "quantitative", "scale": {"domain": [0, 0.2], "nice": false, "zero": false}, "axis": null},
                "y": {"datum": -20, "type": "quantitative", "scale": {"domain": [-20, 150], "nice": false, "zero": false}, "axis": null}
              }
            },
            {
              "data": {"name": "ticks_rho"},
              "transform": [{"filter": "datum.kind === 'major'"}],
              "mark": {"type": "tick", "orient": "vertical", "size": 7, "thickness": 1.3, "color": "#222222", "opacity": 1, "yOffset": 3.5},
              "encoding": {
                "x": {"field": "rho", "type": "quantitative", "scale": {"domain": [0, 0.2], "nice": false, "zero": false}, "axis": null},
                "y": {"datum": 150, "type": "quantitative", "scale": {"domain": [-20, 150], "nice": false, "zero": false}, "axis": null}
              }
            },
            {
              "data": {"name": "ticks_rho"},
              "transform": [{"filter": "datum.kind === 'minor'"}],
              "mark": {"type": "tick", "orient": "vertical", "size": 4, "thickness": 1.3, "color": "#222222", "opacity": 1, "yOffset": 2},
              "encoding": {
                "x": {"field": "rho", "type": "quantitative", "scale": {"domain": [0, 0.2], "nice": false, "zero": false}, "axis": null},
                "y": {"datum": 150, "type": "quantitative", "scale": {"domain": [-20, 150], "nice": false, "zero": false}, "axis": null}
              }
            },
            {
              "data": {"name": "ticks_c"},
              "transform": [{"filter": "datum.kind === 'major'"}],
              "mark": {"type": "tick", "orient": "horizontal", "size": 7, "thickness": 1.3, "color": "#222222", "opacity": 1, "xOffset": 3.5},
              "encoding": {
                "x": {"datum": 0, "type": "quantitative", "scale": {"domain": [0, 0.2], "nice": false, "zero": false}, "axis": null},
                "y": {"field": "value", "type": "quantitative", "scale": {"domain": [-20, 150], "nice": false, "zero": false}, "axis": null}
              }
            },
            {
              "data": {"name": "ticks_c"},
              "transform": [{"filter": "datum.kind === 'minor'"}],
              "mark": {"type": "tick", "orient": "horizontal", "size": 4, "thickness": 1.3, "color": "#222222", "opacity": 1, "xOffset": 2},
              "encoding": {
                "x": {"datum": 0, "type": "quantitative", "scale": {"domain": [0, 0.2], "nice": false, "zero": false}, "axis": null},
                "y": {"field": "value", "type": "quantitative", "scale": {"domain": [-20, 150], "nice": false, "zero": false}, "axis": null}
              }
            },
            {
              "data": {"name": "ticks_c"},
              "transform": [{"filter": "datum.kind === 'major'"}],
              "mark": {"type": "tick", "orient": "horizontal", "size": 7, "thickness": 1.3, "color": "#222222", "opacity": 1, "xOffset": -3.5},
              "encoding": {
                "x": {"datum": 0.2, "type": "quantitative", "scale": {"domain": [0, 0.2], "nice": false, "zero": false}, "axis": null},
                "y": {"field": "value", "type": "quantitative", "scale": {"domain": [-20, 150], "nice": false, "zero": false}, "axis": null}
              }
            },
            {
              "data": {"name": "ticks_c"},
              "transform": [{"filter": "datum.kind === 'minor'"}],
              "mark": {"type": "tick", "orient": "horizontal", "size": 4, "thickness": 1.3, "color": "#222222", "opacity": 1, "xOffset": -2},
              "encoding": {
                "x": {"datum": 0.2, "type": "quantitative", "scale": {"domain": [0, 0.2], "nice": false, "zero": false}, "axis": null},
                "y": {"field": "value", "type": "quantitative", "scale": {"domain": [-20, 150], "nice": false, "zero": false}, "axis": null}
              }
            }
          ],
          "resolve": {"axis": {"x": "independent", "y": "independent"}}
        }
      ],
      "spacing": 111,
      "resolve": {"scale": {"color": "independent"}, "legend": {"color": "independent"}}
    }
  ],
  "spacing": 11,
  "center": true,
  "resolve": {"scale": {"color": "independent"}, "legend": {"color": "independent"}},
  "config": {
    "font": "Liberation Serif",
    "view": {"stroke": "#222222", "strokeWidth": 1.3},
    "axis": {
      "domain": false,
      "grid": false,
      "ticks": false,
      "labelFont": "Liberation Serif",
      "labelFontSize": 19,
      "labelColor": "#1a1a1a",
      "titleFont": "Liberation Serif",
      "titleFontSize": 23,
      "titleFontWeight": "normal",
      "titleColor": "#1a1a1a",
      "labelFlush": false,
      "labelOverlap": false,
      "minExtent": 0
    },
    "legend": {
      "title": null,
      "padding": 0,
      "symbolType": "M-3,0H3",
      "symbolSize": 144,
      "symbolStrokeWidth": 1.7,
      "symbolOffset": 12,
      "labelOffset": 17,
      "labelFont": "Liberation Serif",
      "labelFontSize": 17.5,
      "labelColor": "#1a1a1a"
    },
    "title": {
      "font": "Lato",
      "fontSize": 27,
      "fontWeight": "bold",
      "color": "#e8403a",
      "anchor": "middle",
      "offset": -1
    },
    "text": {"font": "Liberation Serif"}
  }
}
